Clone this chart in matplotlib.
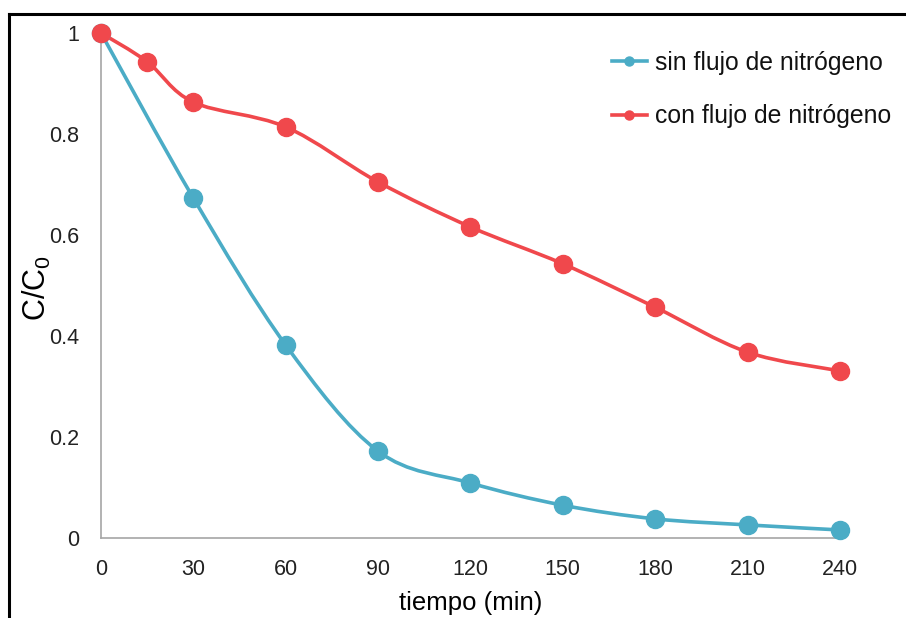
import numpy as np
import matplotlib
matplotlib.use("Agg")
import matplotlib.pyplot as plt
from matplotlib.path import Path
from matplotlib.patches import PathPatch
from matplotlib.lines import Line2D

plt.rcParams['font.family'] = ['Liberation Sans', 'DejaVu Sans']

# data
t_sin = [0, 30, 60, 90, 120, 150, 180, 210, 240]
c_sin = [1.0, 0.673, 0.382, 0.172, 0.109, 0.065, 0.038, 0.026, 0.016]

t_con = [0, 15, 30, 60, 90, 120, 150, 180, 210, 240]
c_con = [1.0, 0.943, 0.863, 0.814, 0.705, 0.616, 0.543, 0.457, 0.368, 0.331]

labels = ['sin flujo de nitrógeno', 'con flujo de nitrógeno']
colors = ['#4BACC6', '#F0484C']

xticks = [0, 30, 60, 90, 120, 150, 180, 210, 240]
yticks = [0, 0.2, 0.4, 0.6, 0.8, 1.0]
yticklabels = ['0', '0.2', '0.4', '0.6', '0.8', '1']


# smooth line like a spreadsheet chart (cubic bezier through the points)
def smooth_path(x, y, k=1/6):
    x = np.asarray(x, float)
    y = np.asarray(y, float)
    n = len(x)
    verts = [(x[0], y[0])]
    codes = [Path.MOVETO]
    for i in range(n - 1):
        x0, y0 = (x[i-1], y[i-1]) if i > 0 else (x[i], y[i])
        x3, y3 = (x[i+2], y[i+2]) if i + 2 < n else (x[i+1], y[i+1])
        c1 = (x[i] + k*(x[i+1]-x0), y[i] + k*(y[i+1]-y0))
        c2 = (x[i+1] - k*(x3-x[i]), y[i+1] - k*(y3-y[i]))
        verts += [c1, c2, (x[i+1], y[i+1])]
        codes += [Path.CURVE4]*3
    return Path(verts, codes)


fig = plt.figure(figsize=(9.06, 6.18), dpi=100)
ax = fig.add_axes([0.1115, 0.1294, 0.927-0.1115, 0.9466-0.1294])

for x, y, c, lab in [(t_sin, c_sin, colors[0], labels[0]), (t_con, c_con, colors[1], labels[1])]:
    ax.add_patch(PathPatch(smooth_path(x, y), fill=False, edgecolor=c, lw=2.6, clip_on=False, zorder=3))
    ax.plot(x, y, 'o', color=c, ms=13, clip_on=False, zorder=4)

handles = [Line2D([], [], color=colors[0], lw=2.6, marker='o', ms=6.5),
           Line2D([], [], color=colors[1], lw=2.6, marker='o', ms=6.5)]
leg = ax.legend(handles, labels, loc='upper left', bbox_to_anchor=(0.691, 0.9645), frameon=False,
                fontsize=17.8, handlelength=1.42, labelspacing=1.19, handletextpad=0.32,
                borderpad=0, borderaxespad=0)
for t in leg.get_texts():
    t.set_color('#111111')

ax.set_xlim(0, 240)
ax.set_ylim(0, 1)
ax.set_xticks(xticks)
ax.set_yticks(yticks)
ax.set_yticklabels(yticklabels)
ax.tick_params(length=0, labelsize=15.5, colors='#222222')
ax.tick_params(axis='x', pad=15)
ax.tick_params(axis='y', pad=16)
for s in ['top', 'right']:
    ax.spines[s].set_visible(False)
for s in ['left', 'bottom']:
    ax.spines[s].set_color('#A6A6A6')
    ax.spines[s].set_linewidth(1.2)

ax.set_xlabel('tiempo (min)', fontsize=18.5)
ax.xaxis.set_label_coords(0.5, -0.105)
ax.set_ylabel('C/C$_\\mathregular{0}$', fontsize=22)
ax.yaxis.set_label_coords(-0.065, 0.495)

# outer frame (left and top edges visible in the picture)
fig.add_artist(Line2D([9/906, 9/906], [0, 1 - 14/618], color='black', lw=2.2, transform=fig.transFigure))
fig.add_artist(Line2D([9/906, 1], [1 - 14/618, 1 - 14/618], color='black', lw=2.2, transform=fig.transFigure))

fig.savefig('out.png', dpi=100)
